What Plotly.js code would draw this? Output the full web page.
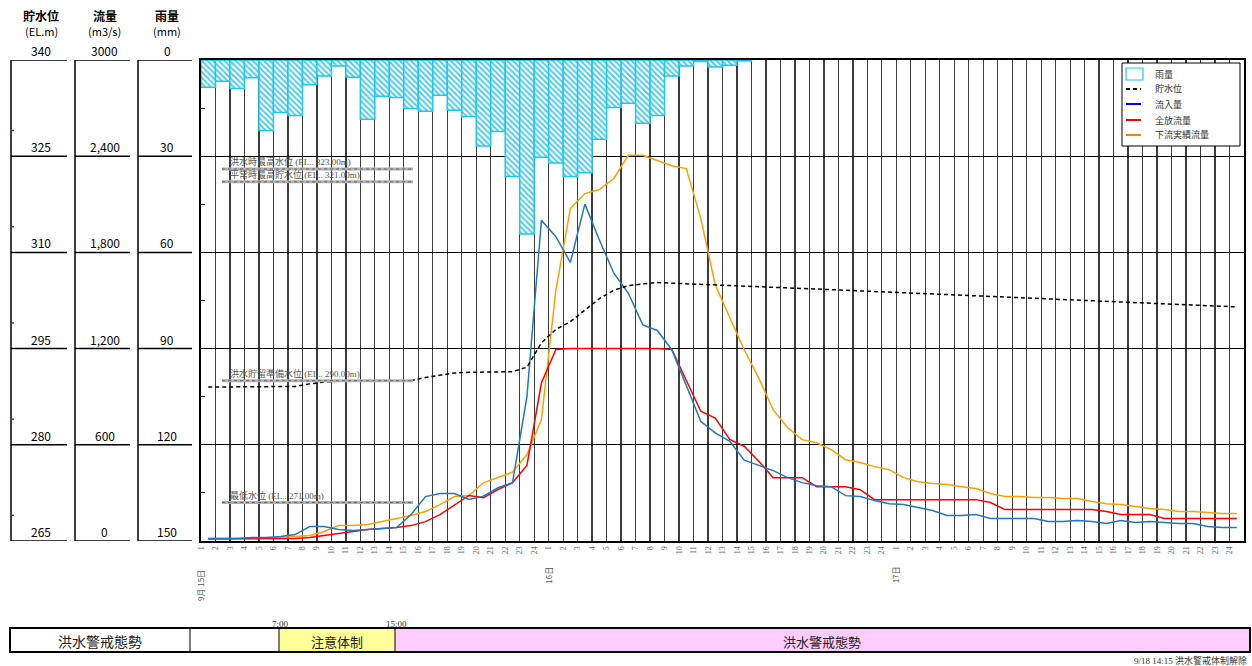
<!DOCTYPE html>
<html><head><meta charset="utf-8">
<script src="https://cdn.plot.ly/plotly-3.0.1.min.js"></script>
<style>body{margin:0;background:#fff}#chart{width:1252px;height:666px}</style>
</head><body><div id="chart"></div>
<script>
// ---------- DATA ----------
const hourLabels = [];
for (let d = 0; d < 3; d++) for (let h = 1; h <= 24; h++) hourLabels.push(String(h));
const dayLabels = ['9月 15日', '16日', '17日'];
const dayStartIndex = [0, 24, 48];

const rain = [8.5, 6.6, 8.9, 5.5, 22.0, 16.4, 17.3, 7.7, 5.0, 1.9, 5.4, 18.5, 11.3, 11.7, 15.1, 16.0, 11.0, 15.7, 17.6, 26.8,
  22.3, 36.3, 54.3, 30.3, 32.1, 36.3, 35.2, 24.7, 14.8, 13.5, 19.7, 17.3, 5.0, 1.9, 0.5, 2.2, 1.6, 0.3];

const waterLevel = [289.0, 289.0, 289.0, 289.0, 289.0, 289.0, 289.1, 289.5, 289.8, 289.9, 289.9, 289.9, 289.9, 289.9, 290.0, 290.5, 290.9, 291.2, 291.3, 291.3,
  291.3, 291.4, 292.1, 295.9, 298.0, 299.2, 301.0, 302.8, 304.1, 304.8, 305.1, 305.3, 305.2, 305.1, 305.0, 304.9, 304.8, 304.7, 304.6, 304.5,
  304.4, 304.3, 304.2, 304.1, 304.1, 304.0, 303.9, 303.8, 303.8, 303.7, 303.5, 303.4, 303.4, 303.3, 303.2, 303.1, 303.0, 302.9, 302.8, 302.7,
  302.6, 302.5, 302.3, 302.2, 302.1, 302.1, 302.0, 301.9, 301.8, 301.7, 301.6, 301.5];

const inflow = [16, 16, 16, 22, 22, 28, 40, 90, 90, 72, 65, 72, 78, 84, 165, 277, 296, 296, 259, 280,
  332, 363, 900, 2000, 1898, 1738, 2101, 1877, 1670, 1545, 1348, 1313, 1193, 975, 747, 674, 622, 504, 471, 439,
  395, 364, 345, 339, 283, 277, 252, 233, 227, 208, 190, 159, 159, 165, 140, 140, 140, 140, 121, 121,
  128, 121, 109, 128, 115, 121, 115, 109, 109, 90, 84, 84];

const outflow = [12, 12, 12, 12, 12, 12, 16, 22, 34, 47, 59, 72, 78, 84, 96, 121, 165, 227, 284, 270,
  321, 363, 471, 985, 1195, 1200, 1200, 1200, 1200, 1200, 1200, 1200, 1195, 1006, 809, 767, 633, 591, 498, 395,
  395, 395, 339, 339, 339, 320, 258, 258, 258, 258, 258, 258, 258, 258, 240, 196, 196, 196, 196, 196,
  196, 196, 184, 165, 165, 165, 140, 140, 140, 140, 140, 140];

const downstream = [16, 16, 16, 16, 18, 22, 28, 34, 59, 96, 96, 103, 121, 140, 159, 184, 227, 277, 284, 363,
  394, 429, 539, 757, 1566, 2074, 2167, 2192, 2261, 2406, 2406, 2375, 2340, 2323, 2012, 1597, 1400, 1193, 1016, 818,
  706, 632, 613, 570, 507, 489, 464, 445, 395, 370, 358, 352, 339, 327, 296, 277, 277, 271, 271, 265,
  265, 246, 233, 227, 215, 202, 196, 184, 184, 177, 171, 171];

const refNames = ['洪水時最高水位 (EL.. 323.00m)', '平常時最高貯水位 (EL.. 321.00m)', '洪水貯留準備水位 (EL.. 290.00m)', '最低水位 (EL.. 271.00m)'];
const refLevels = [323, 321, 290, 271];

const levelTicks = [265, 280, 295, 310, 325, 340];
const levelTickText = ['265', '280', '295', '310', '325', '340'];
const flowTicks = [0, 600, 1200, 1800, 2400, 3000];
const flowTickText = ['0', '600', '1,200', '1,800', '2,400', '3000'];
const rainTicks = [150, 120, 90, 60, 30, 0];
const rainTickText = ['150', '120', '90', '60', '30', '0'];

const seriesNames = ['雨量', '貯水位', '流入量', '全放流量', '下流実績流量'];
const stripLabels = ['洪水警戒態勢', '注意体制', '洪水警戒態勢'];
const stripTimes = ['7:00', '15:00'];
const stripNote = '9/18 14:15 洪水警戒体制解除';

// ---------- LAYOUT HELPERS ----------
const L = 201, R = 1244, T = 60, B = 541;
const px = x => (x - L) / (R - L);
const py = y => (B - y) / (B - T);
const idx = a => a.map((_, i) => i + 0.5);

const C_BLUE = '#1f78c4', C_RED = '#ff0000', C_ORANGE = '#ffa000', C_CYAN = '#1ec8f0';
const JP = '"Noto Sans CJK JP", "Noto Sans", sans-serif';
const SERIF = '"Liberation Serif", "DejaVu Serif", "Noto Sans CJK JP", serif';

function note(x, y, text, font, xa, ya, extra) {
  return Object.assign({ xref: 'paper', yref: 'paper', x: x, y: y, text: text, font: font, showarrow: false,
    xanchor: xa || 'center', yanchor: ya || 'middle' }, extra || {});
}

const traces = [
  { type: 'bar', x: idx(rain), y: rain, yaxis: 'y3', width: 1, name: seriesNames[0],
    marker: { color: '#ffffff', line: { color: C_CYAN, width: 1.5 },
      pattern: { shape: '\\', fgcolor: '#3cc8ee', bgcolor: '#ffffff', size: 4, solidity: 0.45 } },
    hoverinfo: 'skip' },
  { type: 'scatter', mode: 'lines', x: idx(downstream), y: downstream, yaxis: 'y', name: seriesNames[4],
    line: { color: C_ORANGE, width: 1.5 } },
  { type: 'scatter', mode: 'lines', x: idx(outflow), y: outflow, yaxis: 'y', name: seriesNames[3],
    line: { color: C_RED, width: 1.5 } },
  { type: 'scatter', mode: 'lines', x: idx(inflow), y: inflow, yaxis: 'y', name: seriesNames[2],
    line: { color: C_BLUE, width: 1.5 } },
  { type: 'scatter', mode: 'lines', x: idx(waterLevel), y: waterLevel, yaxis: 'y2', name: seriesNames[1],
    line: { color: '#000', width: 1.5, dash: '4px,3px' } }
];

const shapes = [];
const annotations = [];

// Reference levels
const unit = (R - L) / 72;
const refX0 = (222 - L) / unit, refX1 = (413 - L) / unit, refTX = (228 - L) / unit;
refLevels.forEach((v, k) => {
  shapes.push({ type: 'line', xref: 'x', yref: 'y2', x0: refX0, x1: refX1, y0: v, y1: v, line: { color: '#b0b0b0', width: 3 } });
  shapes.push({ type: 'line', xref: 'x', yref: 'y2', x0: refX0, x1: refX1, y0: v, y1: v, line: { color: '#666666', width: 1, dash: 'dot' } });
  annotations.push({ xref: 'x', yref: 'y2', x: refTX, y: v, xanchor: 'left', yanchor: 'bottom', yshift: 0, showarrow: false,
    text: refNames[k], font: { family: SERIF, size: 9, color: '#555' } });
});

// Left scale columns
const cols = [
  { l: 11, r: 67, ref: 'y2', vals: levelTicks, txt: levelTickText, head: '貯水位', unit: '(EL.m)' },
  { l: 75, r: 130, ref: 'y', vals: flowTicks, txt: flowTickText, head: '流量', unit: '(m3/s)' },
  { l: 138, r: 192, ref: 'y3', vals: rainTicks, txt: rainTickText, head: '雨量', unit: '(mm)' }
];
cols.forEach(c => {
  const lo = c.vals[0], hi = c.vals[c.vals.length - 1];
  const cx = px((c.l + c.r) / 2 + 2);
  shapes.push({ type: 'line', xref: 'paper', yref: c.ref, x0: px(c.l), x1: px(c.l), y0: lo, y1: hi, line: { color: '#000', width: 1.5 } });
  c.vals.forEach((v, k) => {
    shapes.push({ type: 'line', xref: 'paper', yref: c.ref, x0: px(c.l), x1: px(c.r), y0: v, y1: v, line: { color: '#000', width: 1.5 } });
    annotations.push({ xref: 'paper', yref: c.ref, x: cx, y: v, yanchor: 'bottom', xanchor: 'center',
      showarrow: false, text: c.txt[k], font: { family: JP, size: 12, color: '#000' }, yshift: -1 });
  });
  annotations.push(note(cx, py(15), '<b>' + c.head + '</b>', { family: JP, size: 12, color: '#000' }));
  annotations.push(note(cx, py(31), c.unit, { family: JP, size: 11, color: '#000' }));
});
// small green marks on the level column
levelTicks.slice(0, 5).forEach(v => {
  shapes.push({ type: 'line', xref: 'paper', yref: 'y2', x0: px(11), x1: px(14), y0: v + 4, y1: v + 4, line: { color: '#008000', width: 1.5 } });
});

// Day labels
dayLabels.forEach((t, k) => {
  annotations.push({ xref: 'x', yref: 'paper', x: dayStartIndex[k], y: py(k === 0 ? 586 : 575), textangle: -90, showarrow: false,
    text: t, font: { family: JP, size: 8, color: '#555' }, xanchor: 'center', yanchor: 'middle', xshift: -1 });
});

// Legend (custom box)
shapes.push({ type: 'rect', xref: 'paper', yref: 'paper', x0: px(1122), x1: px(1240), y0: py(63), y1: py(146), line: { color: '#000', width: 1 }, fillcolor: '#fff' });
shapes.push({ type: 'rect', xref: 'paper', yref: 'paper', x0: px(1126), x1: px(1143), y0: py(68), y1: py(80), line: { color: C_CYAN, width: 1.2 }, fillcolor: '#fff' });
const legY = [74, 89, 104, 120, 135];
const legC = [null, '#000', '#0000ff', C_RED, '#ff7f00'];
legY.forEach((y, k) => {
  if (k > 0) shapes.push({ type: 'line', xref: 'paper', yref: 'paper', x0: px(1126), x1: px(1141), y0: py(y), y1: py(y),
    line: { color: legC[k], width: 2, dash: k === 1 ? '4px,3px' : 'solid' } });
  annotations.push(note(px(1153), py(y), seriesNames[k], { family: JP, size: 9, color: '#333' }, 'left', 'middle'));
});

// Bottom strip
const sy0 = py(652), sy1 = py(628);
shapes.push({ type: 'rect', xref: 'paper', yref: 'paper', x0: px(279), x1: px(395), y0: sy0, y1: sy1, line: { width: 0 }, fillcolor: '#ffff99' });
shapes.push({ type: 'rect', xref: 'paper', yref: 'paper', x0: px(395), x1: px(1250), y0: sy0, y1: sy1, line: { width: 0 }, fillcolor: '#ffccff' });
shapes.push({ type: 'rect', xref: 'paper', yref: 'paper', x0: px(10), x1: px(1250), y0: sy0, y1: sy1, line: { color: '#000', width: 2 }, fillcolor: 'rgba(0,0,0,0)' });
[190, 279, 395].forEach(x => shapes.push({ type: 'line', xref: 'paper', yref: 'paper', x0: px(x), x1: px(x), y0: sy0, y1: sy1, line: { color: '#000', width: 1 } }));
annotations.push(note(px(100), py(641), stripLabels[0], { family: JP, size: 14, color: '#222' }));
annotations.push(note(px(337), py(641), stripLabels[1], { family: JP, size: 13, color: '#222' }));
annotations.push(note(px(822), py(641), stripLabels[2], { family: JP, size: 13, color: '#222' }));
annotations.push(note(px(280), py(624), stripTimes[0], { family: SERIF, size: 9, color: '#333' }));
annotations.push(note(px(396), py(624), stripTimes[1], { family: SERIF, size: 9, color: '#333' }));
annotations.push(note(px(1249), py(660), stripNote, { family: SERIF, size: 9, color: '#333' }, 'right', 'middle'));

const hourTicks = hourLabels.map((_, i) => i);

const layout = {
  width: 1252, height: 666,
  margin: { l: L, r: 1252 - R, t: T, b: 666 - B },
  paper_bgcolor: '#fff', plot_bgcolor: '#fff',
  showlegend: false,
  font: { family: JP, size: 10, color: '#000' },
  bargap: 0,
  xaxis: { range: [0, 72], tickvals: hourTicks, ticktext: hourLabels, tickangle: -90, ticks: '',
    tickfont: { family: SERIF, size: 8, color: '#666' }, showgrid: true, gridcolor: '#3c3c3c', gridwidth: 1.3,
    showline: true, linecolor: '#000', linewidth: 2, mirror: true, zeroline: false, fixedrange: true },
  yaxis: { range: [0, 3000], tickvals: [600, 1200, 1800, 2400], showticklabels: false, ticks: '',
    gridcolor: '#000', gridwidth: 1, showline: true, linecolor: '#000', linewidth: 2, mirror: true, zeroline: false,
    minor: { tickvals: [300, 900, 1500, 2100, 2700], ticks: 'inside', ticklen: 4, tickcolor: '#000', showgrid: false } },
  yaxis2: { range: [265, 340], overlaying: 'y', visible: false },
  yaxis3: { range: [150, 0], overlaying: 'y', visible: false },
  shapes: shapes,
  annotations: annotations
};

Plotly.newPlot('chart', traces, layout, { displayModeBar: false, staticPlot: true });
</script>
</body></html>
